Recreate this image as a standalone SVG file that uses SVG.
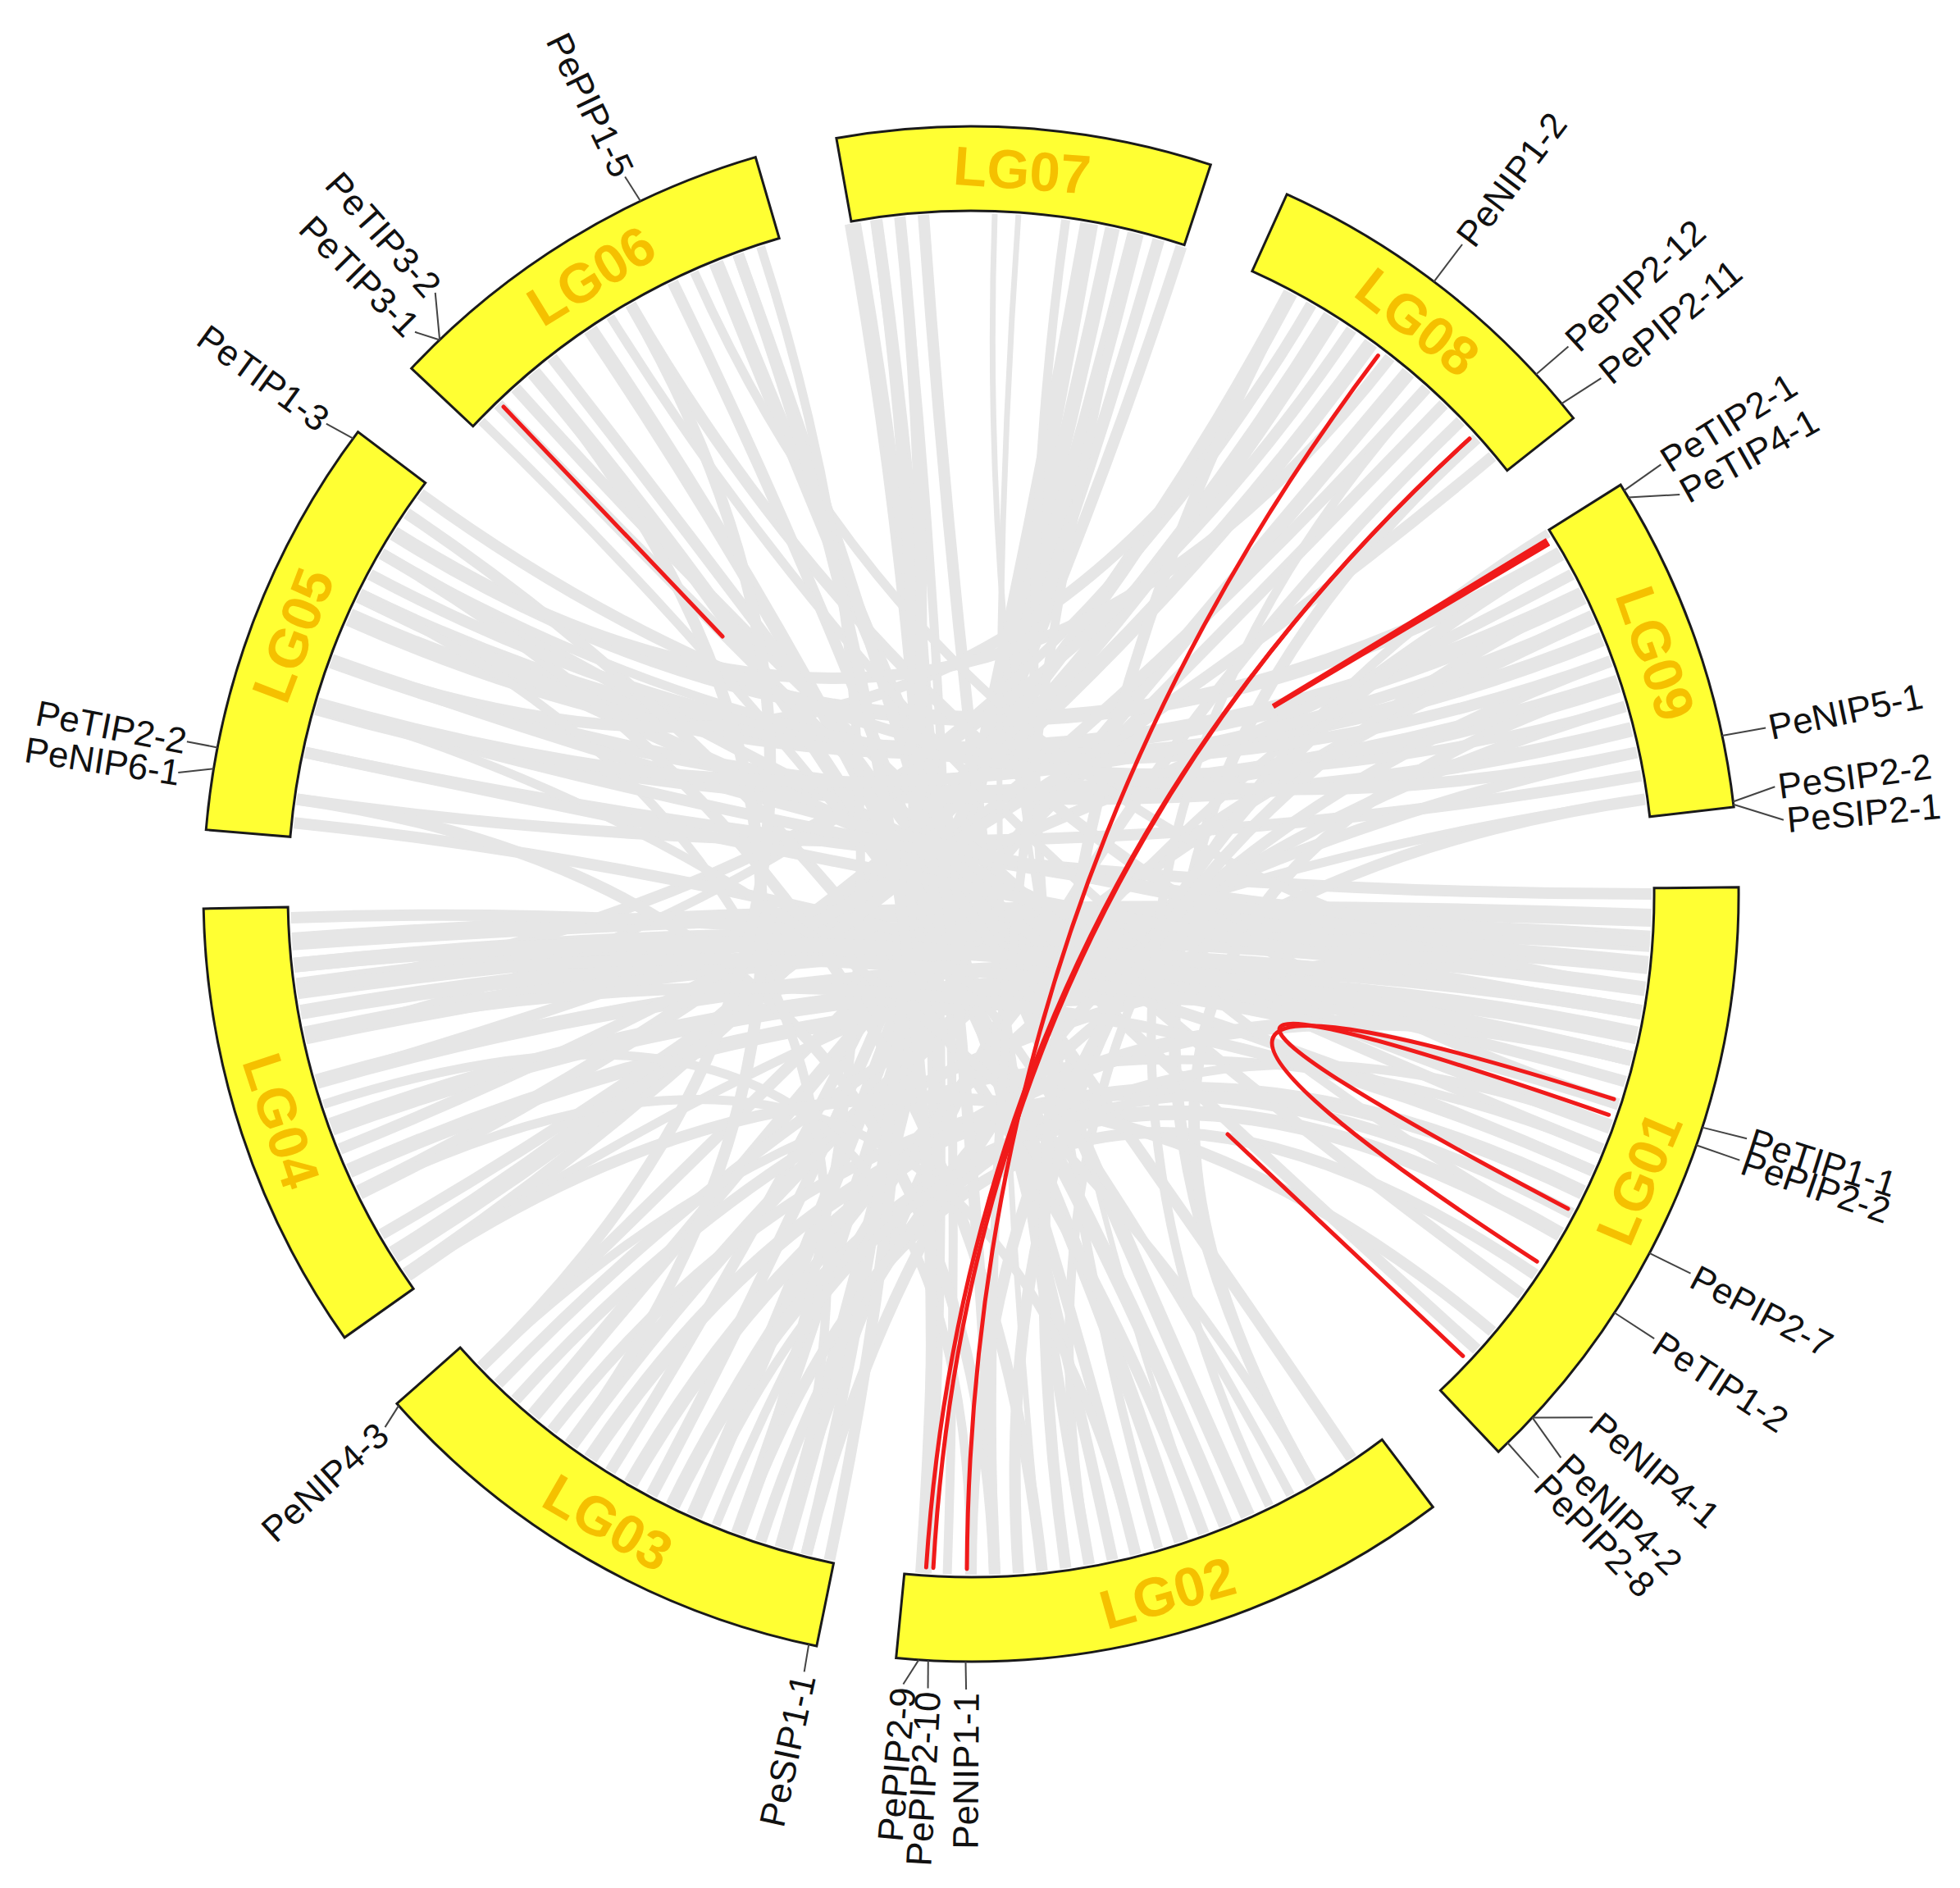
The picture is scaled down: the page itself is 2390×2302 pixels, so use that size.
<svg xmlns="http://www.w3.org/2000/svg" width="2390" height="2302" viewBox="0 0 2390 2302">
<style>
.lk{fill:none;stroke:#E6E6E6}
.rd{fill:none;stroke:#F01A1A;stroke-width:5;stroke-linecap:round}
.band{fill:#FFFF33;stroke:#1A1A1A;stroke-width:3;stroke-linejoin:miter}
.lg{font-family:"Liberation Sans",Arial,sans-serif;font-size:67px;font-weight:bold;fill:#F5C000;text-anchor:middle;dominant-baseline:central}
.gl{font-family:"Liberation Sans",Arial,sans-serif;font-size:44px;fill:#111111;dominant-baseline:central}
.gr{text-anchor:end}
.tk{stroke:#444444;stroke-width:2;fill:none}
</style>
<rect width="2390" height="2302" fill="#FFFFFF"/>
<g id="connectors">
<g transform="translate(1184,1090)">
<path class="lk" stroke-width="20" transform="rotate(267)" d="M-823.8,-101.2Q0,0 823.8,-101.2"/>
<path class="lk" stroke-width="15" transform="rotate(268)" d="M-825.4,-86.7Q0,0 825.4,-86.7"/>
<path class="lk" stroke-width="11" transform="rotate(268)" d="M-828,-57.9Q0,0 828,-57.9"/>
<path class="lk" stroke-width="14" transform="rotate(83)" d="M-828.8,-43.4Q0,0 828.8,-43.4"/>
<path class="lk" stroke-width="22" transform="rotate(283)" d="M-828.8,-43.4Q0,0 828.8,-43.4"/>
<path class="lk" stroke-width="18" transform="rotate(286)" d="M-828,-57.9Q0,0 828,-57.9"/>
<path class="lk" stroke-width="20" transform="rotate(289)" d="M-826.8,-72.3Q0,0 826.8,-72.3"/>
<path class="lk" stroke-width="15" transform="rotate(292)" d="M-825.4,-86.7Q0,0 825.4,-86.7"/>
<path class="lk" stroke-width="14" transform="rotate(295)" d="M-823.8,-101.2Q0,0 823.8,-101.2"/>
<path class="lk" stroke-width="11" transform="rotate(86)" d="M-811.8,-172.6Q0,0 811.8,-172.6"/>
<path class="lk" stroke-width="7" transform="rotate(81)" d="M-814.7,-158.4Q0,0 814.7,-158.4"/>
<path class="lk" stroke-width="18" transform="rotate(312)" d="M-805.3,-200.8Q0,0 805.3,-200.8"/>
<path class="lk" stroke-width="22" transform="rotate(315)" d="M-808.8,-186.7Q0,0 808.8,-186.7"/>
<path class="lk" stroke-width="18" transform="rotate(320)" d="M-805.3,-200.8Q0,0 805.3,-200.8"/>
<path class="lk" stroke-width="18" transform="rotate(130)" d="M-830,0Q0,0 830,0"/>
<path class="lk" stroke-width="14" transform="rotate(315)" d="M-829.9,-14.5Q0,0 829.9,-14.5"/>
<path class="lk" stroke-width="14" transform="rotate(121)" d="M-801.7,-214.8Q0,0 801.7,-214.8"/>
<path class="lk" stroke-width="14" transform="rotate(99)" d="M-645,-522.3Q0,0 645,-522.3"/>
<path class="lk" stroke-width="11" transform="rotate(324)" d="M-758.2,-337.6Q0,0 758.2,-337.6"/>
<path class="lk" stroke-width="14" transform="rotate(328)" d="M-758.2,-337.6Q0,0 758.2,-337.6"/>
<path class="lk" stroke-width="18" transform="rotate(1)" d="M-711.5,-427.5Q0,0 711.5,-427.5"/>
<path class="lk" stroke-width="22" transform="rotate(359)" d="M-752.2,-350.8Q0,0 752.2,-350.8"/>
<path class="lk" stroke-width="18" transform="rotate(2)" d="M-758.2,-337.6Q0,0 758.2,-337.6"/>
<path class="lk" stroke-width="22" transform="rotate(359)" d="M-793.7,-242.7Q0,0 793.7,-242.7"/>
<path class="lk" stroke-width="18" transform="rotate(3)" d="M-793.7,-242.7Q0,0 793.7,-242.7"/>
<path class="lk" stroke-width="14" transform="rotate(359)" d="M-819.8,-129.8Q0,0 819.8,-129.8"/>
<path class="lk" stroke-width="14" transform="rotate(338)" d="M-825.4,-86.7Q0,0 825.4,-86.7"/>
<path class="lk" stroke-width="18" transform="rotate(141)" d="M-801.7,-214.8Q0,0 801.7,-214.8"/>
<path class="lk" stroke-width="14" transform="rotate(140)" d="M-758.2,-337.6Q0,0 758.2,-337.6"/>
<path class="lk" stroke-width="14" transform="rotate(151)" d="M-793.7,-242.7Q0,0 793.7,-242.7"/>
<path class="lk" stroke-width="11" transform="rotate(159)" d="M-808.8,-186.7Q0,0 808.8,-186.7"/>
<path class="lk" stroke-width="11" transform="rotate(114)" d="M-688.1,-464.1Q0,0 688.1,-464.1"/>
<path class="lk" stroke-width="22" transform="rotate(179)" d="M-828.8,-43.4Q0,0 828.8,-43.4"/>
<path class="lk" stroke-width="26" transform="rotate(178)" d="M-825.4,-86.7Q0,0 825.4,-86.7"/>
<path class="lk" stroke-width="22" transform="rotate(177)" d="M-819.8,-129.8Q0,0 819.8,-129.8"/>
<path class="lk" stroke-width="18" transform="rotate(181)" d="M-823.8,-101.2Q0,0 823.8,-101.2"/>
<path class="lk" stroke-width="18" transform="rotate(177)" d="M-808.8,-186.7Q0,0 808.8,-186.7"/>
<path class="lk" stroke-width="22" transform="rotate(176)" d="M-797.9,-228.7Q0,0 797.9,-228.7"/>
<path class="lk" stroke-width="18" transform="rotate(175)" d="M-784.8,-270.2Q0,0 784.8,-270.2"/>
<path class="lk" stroke-width="14" transform="rotate(187)" d="M-819.8,-129.8Q0,0 819.8,-129.8"/>
<path class="lk" stroke-width="14" transform="rotate(6)" d="M-825.4,-86.7Q0,0 825.4,-86.7"/>
<path class="lk" stroke-width="18" transform="rotate(23)" d="M-828.8,-43.4Q0,0 828.8,-43.4"/>
<path class="lk" stroke-width="14" transform="rotate(26)" d="M-828,-57.9Q0,0 828,-57.9"/>
<path class="lk" stroke-width="14" transform="rotate(195)" d="M-819.8,-129.8Q0,0 819.8,-129.8"/>
<path class="lk" stroke-width="18" transform="rotate(165)" d="M-626.4,-544.6Q0,0 626.4,-544.6"/>
<path class="lk" stroke-width="14" transform="rotate(168)" d="M-635.8,-533.5Q0,0 635.8,-533.5"/>
<path class="lk" stroke-width="18" transform="rotate(163)" d="M-566.1,-607Q0,0 566.1,-607"/>
<path class="lk" stroke-width="14" transform="rotate(162)" d="M-511,-654Q0,0 511,-654"/>
<path class="lk" stroke-width="14" transform="rotate(42)" d="M-825.4,-86.7Q0,0 825.4,-86.7"/>
<path class="lk" stroke-width="14" transform="rotate(39)" d="M-774.9,-297.5Q0,0 774.9,-297.5"/>
<path class="lk" stroke-width="18" transform="rotate(239)" d="M-819.8,-129.8Q0,0 819.8,-129.8"/>
<path class="lk" stroke-width="18" transform="rotate(244)" d="M-821.9,-115.5Q0,0 821.9,-115.5"/>
<path class="lk" stroke-width="14" transform="rotate(250)" d="M-825.4,-86.7Q0,0 825.4,-86.7"/>
<path class="lk" stroke-width="18" transform="rotate(67)" d="M-829.9,-14.5Q0,0 829.9,-14.5"/>
<path class="lk" stroke-width="14" transform="rotate(254)" d="M-828,-57.9Q0,0 828,-57.9"/>
<path class="lk" stroke-width="14" transform="rotate(232)" d="M-789.4,-256.5Q0,0 789.4,-256.5"/>
<path class="lk" stroke-width="14" transform="rotate(237)" d="M-739.5,-376.8Q0,0 739.5,-376.8"/>
<path class="lk" stroke-width="11" transform="rotate(233)" d="M-819.8,-129.8Q0,0 819.8,-129.8"/>
<path class="lk" stroke-width="14" transform="rotate(111)" d="M-522.3,-645Q0,0 522.3,-645"/>
<path class="lk" stroke-width="14" transform="rotate(132)" d="M-732.8,-389.7Q0,0 732.8,-389.7"/>
<path class="lk" stroke-width="14" transform="rotate(140)" d="M-703.8,-439.8Q0,0 703.8,-439.8"/>
<path class="lk" stroke-width="11" transform="rotate(131)" d="M-784.8,-270.2Q0,0 784.8,-270.2"/>
<path class="lk" stroke-width="18" transform="rotate(157)" d="M-662.8,-499.5Q0,0 662.8,-499.5"/>
<path class="lk" stroke-width="14" transform="rotate(159)" d="M-739.5,-376.8Q0,0 739.5,-376.8"/>
<path class="lk" stroke-width="11" transform="rotate(169)" d="M-696.1,-452Q0,0 696.1,-452"/>
<path class="lk" stroke-width="14" transform="rotate(321)" d="M-819.8,-129.8Q0,0 819.8,-129.8"/>
<path class="lk" stroke-width="14" transform="rotate(329)" d="M-819.8,-129.8Q0,0 819.8,-129.8"/>
<path class="lk" stroke-width="14" transform="rotate(340)" d="M-635.8,-533.5Q0,0 635.8,-533.5"/>
<path class="lk" stroke-width="14" transform="rotate(350)" d="M-616.8,-555.4Q0,0 616.8,-555.4"/>
<path class="lk" stroke-width="14" transform="rotate(44)" d="M-829.5,-29Q0,0 829.5,-29"/>
<path class="lk" stroke-width="14" transform="rotate(234)" d="M-829.5,-29Q0,0 829.5,-29"/>
<path class="lk" stroke-width="11" transform="rotate(44)" d="M-805.3,-200.8Q0,0 805.3,-200.8"/>
<path class="lk" stroke-width="11" transform="rotate(37)" d="M-725.9,-402.4Q0,0 725.9,-402.4"/>
<path class="lk" stroke-width="11" transform="rotate(271)" d="M-784.8,-270.2Q0,0 784.8,-270.2"/>
<path class="lk" stroke-width="14" transform="rotate(228)" d="M-635.8,-533.5Q0,0 635.8,-533.5"/>
<path class="lk" stroke-width="11" transform="rotate(218)" d="M-769.6,-310.9Q0,0 769.6,-310.9"/>
<path class="lk" stroke-width="11" transform="rotate(205)" d="M-522.3,-645Q0,0 522.3,-645"/>
<path class="lk" stroke-width="11" transform="rotate(216)" d="M-487.9,-671.5Q0,0 487.9,-671.5"/>
<path class="lk" stroke-width="11" transform="rotate(246)" d="M-635.8,-533.5Q0,0 635.8,-533.5"/>
<path class="lk" stroke-width="7" transform="rotate(89)" d="M-826.8,-72.3Q0,0 826.8,-72.3"/>
<path class="lk" stroke-width="14" transform="rotate(264)" d="M-828,-57.9Q0,0 828,-57.9"/>
<path class="lk" stroke-width="14" transform="rotate(272)" d="M-817.4,-144.1Q0,0 817.4,-144.1"/>
<path class="lk" stroke-width="14" transform="rotate(274)" d="M-817.4,-144.1Q0,0 817.4,-144.1"/>
<path class="lk" stroke-width="14" transform="rotate(10)" d="M-825.4,-86.7Q0,0 825.4,-86.7"/>
<path class="lk" stroke-width="14" transform="rotate(13)" d="M-823.8,-101.2Q0,0 823.8,-101.2"/>
<path class="lk" stroke-width="18" transform="rotate(180)" d="M-817.4,-144.1Q0,0 817.4,-144.1"/>
<path class="lk" stroke-width="18" transform="rotate(184)" d="M-817.4,-144.1Q0,0 817.4,-144.1"/>
<path class="lk" stroke-width="14" transform="rotate(183)" d="M-662.8,-499.5Q0,0 662.8,-499.5"/>
<path class="lk" stroke-width="14" transform="rotate(118)" d="M-703.8,-439.8Q0,0 703.8,-439.8"/>
<path class="lk" stroke-width="14" transform="rotate(122)" d="M-703.8,-439.8Q0,0 703.8,-439.8"/>
<path class="lk" stroke-width="11" transform="rotate(98)" d="M-688.1,-464.1Q0,0 688.1,-464.1"/>
<path class="lk" stroke-width="14" transform="rotate(100)" d="M-789.4,-256.5Q0,0 789.4,-256.5"/>
<path class="lk" stroke-width="11" transform="rotate(96)" d="M-821.9,-115.5Q0,0 821.9,-115.5"/>
<path class="lk" stroke-width="14" transform="rotate(262)" d="M-811.8,-172.6Q0,0 811.8,-172.6"/>
<path class="lk" stroke-width="14" transform="rotate(11)" d="M-829.9,-14.5Q0,0 829.9,-14.5"/>
<path class="lk" stroke-width="14" transform="rotate(4)" d="M-758.2,-337.6Q0,0 758.2,-337.6"/>
<path class="lk" stroke-width="14" transform="rotate(12)" d="M-758.2,-337.6Q0,0 758.2,-337.6"/>
<path class="lk" stroke-width="14" transform="rotate(268)" d="M-654,-511Q0,0 654,-511"/>
<path class="lk" stroke-width="14" transform="rotate(278)" d="M-654,-511Q0,0 654,-511"/>
<path class="lk" stroke-width="11" transform="rotate(155)" d="M-586.9,-586.9Q0,0 586.9,-586.9"/>
<path class="lk" stroke-width="11" transform="rotate(160)" d="M-576.6,-597Q0,0 576.6,-597"/>
<path class="lk" stroke-width="14" transform="rotate(356)" d="M-780,-283.9Q0,0 780,-283.9"/>
<path class="lk" stroke-width="11" transform="rotate(7)" d="M-764,-324.3Q0,0 764,-324.3"/>
<path class="lk" stroke-width="14" transform="rotate(185)" d="M-808.8,-186.7Q0,0 808.8,-186.7"/>
<path class="lk" stroke-width="14" transform="rotate(186)" d="M-789.4,-256.5Q0,0 789.4,-256.5"/>
</g>
<path class="rd" d="M1680.4,433.6Q1184,1090 1179,1913"/>
<path class="rd" d="M1791.8,535Q1184,1090 1138.1,1911.7"/>
<path class="rd" d="M1791.8,535Q1184,1090 1129.4,1911"/>
<path class="rd" d="M1968,1340.2Q1184,1090 1874.2,1538.2"/>
<path class="rd" d="M1961.7,1359.3Q1184,1090 1912,1473.8"/>
<path class="rd" d="M614,496L881,776"/>
<path class="rd" d="M1783.9,1653.4L1497,1383"/>
<polygon points="1889.3,664.9 1884.7,657.1 1551.7,858.9 1554.3,863.2" fill="#F01A1A" stroke="#F01A1A" stroke-width="1.5" stroke-linejoin="round"/>
</g>
<g id="LG07" transform="translate(1184,1090) rotate(4.05)"><path class="band" d="M-228.8,-907.6A936,936 0 0 1 228.8,-907.6L203.6,-807.7A833,833 0 0 0 -203.6,-807.7Z"/><text class="lg" x="0" y="-885">LG07</text></g>
<g id="LG08" transform="translate(1184,1090) rotate(38)"><path class="band" d="M-221.7,-909.4A936,936 0 0 1 221.7,-909.4L197.3,-809.4A833,833 0 0 0 -197.3,-809.4Z"/><text class="lg" x="0" y="-885">LG08</text></g>
<g id="LG09" transform="translate(1184,1090) rotate(70.65)"><path class="band" d="M-208.2,-912.7A936,936 0 0 1 208.2,-912.7L185.3,-812.2A833,833 0 0 0 -185.3,-812.2Z"/><text class="lg" x="0" y="-885">LG09</text></g>
<g id="LG01" transform="translate(1184,1090) rotate(113.05)"><path class="band" d="M-374,-858.1A936,936 0 0 1 374,-858.1L332.8,-763.7A833,833 0 0 0 -332.8,-763.7Z"/><text class="lg" x="0" y="-885" transform="rotate(180 0 -885)">LG01</text></g>
<g id="LG02" transform="translate(1184,1090) rotate(164.3)"><path class="band" d="M-340,-872.1A936,936 0 0 1 340,-872.1L302.6,-776.1A833,833 0 0 0 -302.6,-776.1Z"/><text class="lg" x="0" y="-885" transform="rotate(180 0 -885)">LG02</text></g>
<g id="LG03" transform="translate(1184,1090) rotate(210)"><path class="band" d="M-295.5,-888.2A936,936 0 0 1 295.5,-888.2L262.9,-790.4A833,833 0 0 0 -262.9,-790.4Z"/><text class="lg" x="0" y="-885" transform="rotate(180 0 -885)">LG03</text></g>
<g id="LG04" transform="translate(1184,1090) rotate(251.8)"><path class="band" d="M-275.2,-894.6A936,936 0 0 1 275.2,-894.6L244.9,-796.2A833,833 0 0 0 -244.9,-796.2Z"/><text class="lg" x="0" y="-885" transform="rotate(180 0 -885)">LG04</text></g>
<g id="LG05" transform="translate(1184,1090) rotate(290.9)"><path class="band" d="M-259.6,-899.3A936,936 0 0 1 259.6,-899.3L231,-800.3A833,833 0 0 0 -231,-800.3Z"/><text class="lg" x="0" y="-885">LG05</text></g>
<g id="LG06" transform="translate(1184,1090) rotate(328.45)"><path class="band" d="M-246.2,-903.1A936,936 0 0 1 246.2,-903.1L219.1,-803.7A833,833 0 0 0 -219.1,-803.7Z"/><text class="lg" x="0" y="-885">LG06</text></g>
<g id="PeNIP1-2" transform="translate(1184,1090) rotate(37.1)"><path class="tk" d="M0,-936L0,-993"/><text class="gl" transform="rotate(-90)" x="997" y="0">PeNIP1-2</text></g>
<g id="PePIP2-12" transform="translate(1184,1090) rotate(47.5)"><path class="tk" d="M-1.6,-936L0,-988"/><text class="gl" transform="rotate(-90)" x="992" y="0">PePIP2-12</text></g>
<g id="PePIP2-11" transform="translate(1184,1090) rotate(50.7)"><path class="tk" d="M-6.5,-936L0,-993"/><text class="gl" transform="rotate(-90)" x="997" y="0">PePIP2-11</text></g>
<g id="PeTIP2-1" transform="translate(1184,1090) rotate(58.1)"><path class="tk" d="M3.3,-936L0,-991"/><text class="gl" transform="rotate(-90)" x="995" y="0">PeTIP2-1</text></g>
<g id="PeTIP4-1" transform="translate(1184,1090) rotate(60.6)"><path class="tk" d="M-27.8,-935.6L0,-992"/><text class="gl" transform="rotate(-90)" x="996" y="0">PeTIP4-1</text></g>
<g id="PeNIP5-1" transform="translate(1184,1090) rotate(78.2)"><path class="tk" d="M-1.6,-936L0,-990"/><text class="gl" transform="rotate(-90)" x="994" y="0">PeNIP5-1</text></g>
<g id="PeSIP2-2" transform="translate(1184,1090) rotate(82.4)"><path class="tk" d="M11.4,-935.9L0,-989"/><text class="gl" transform="rotate(-90)" x="993" y="0">PeSIP2-2</text></g>
<g id="PeSIP2-1" transform="translate(1184,1090) rotate(84.8)"><path class="tk" d="M-24.5,-935.7L0,-995"/><text class="gl" transform="rotate(-90)" x="999" y="0">PeSIP2-1</text></g>
<g id="PeTIP1-1" transform="translate(1184,1090) rotate(107.5)"><path class="tk" d="M3.3,-936L0,-992"/><text class="gl" transform="rotate(-90)" x="996" y="0">PeTIP1-1</text></g>
<g id="PePIP2-2" transform="translate(1184,1090) rotate(109.1)"><path class="tk" d="M0,-936L0,-992"/><text class="gl" transform="rotate(-90)" x="996" y="0">PePIP2-2</text></g>
<g id="PePIP2-7" transform="translate(1184,1090) rotate(117.8)"><path class="tk" d="M1.6,-936L0,-992"/><text class="gl" transform="rotate(-90)" x="996" y="0">PePIP2-7</text></g>
<g id="PeTIP1-2" transform="translate(1184,1090) rotate(123.05)"><path class="tk" d="M0,-936L0,-994"/><text class="gl" transform="rotate(-90)" x="998" y="0">PeTIP1-2</text></g>
<g id="PeNIP4-1" transform="translate(1184,1090) rotate(130.1)"><path class="tk" d="M47.4,-934.8L0,-991"/><text class="gl" transform="rotate(-90)" x="995" y="0">PeNIP4-1</text></g>
<g id="PeNIP4-2" transform="translate(1184,1090) rotate(133.7)"><path class="tk" d="M-11.4,-935.9L0,-995"/><text class="gl" transform="rotate(-90)" x="999" y="0">PeNIP4-2</text></g>
<g id="PePIP2-8" transform="translate(1184,1090) rotate(135.8)"><path class="tk" d="M-2.5,-936L0,-993"/><text class="gl" transform="rotate(-90)" x="997" y="0">PePIP2-8</text></g>
<g id="PeNIP1-1" transform="translate(1184,1090) rotate(180.35)"><path class="tk" d="M0.8,-936L0,-970"/><text class="gl gr" transform="rotate(90)" x="-974" y="0">PeNIP1-1</text></g>
<g id="PePIP2-10" transform="translate(1184,1090) rotate(183.1)"><path class="tk" d="M1.6,-936L0,-970"/><text class="gl gr" transform="rotate(90)" x="-974" y="0">PePIP2-10</text></g>
<g id="PePIP2-9" transform="translate(1184,1090) rotate(184.9)"><path class="tk" d="M-16.3,-935.9L0,-967"/><text class="gl gr" transform="rotate(90)" x="-971" y="0">PePIP2-9</text></g>
<g id="PeSIP1-1" transform="translate(1184,1090) rotate(192.1)"><path class="tk" d="M1.6,-936L0,-970"/><text class="gl gr" transform="rotate(90)" x="-974" y="0">PeSIP1-1</text></g>
<g id="PeNIP4-3" transform="translate(1184,1090) rotate(227.7)"><path class="tk" d="M8.2,-936L0,-966"/><text class="gl gr" transform="rotate(90)" x="-970" y="0">PeNIP4-3</text></g>
<g id="PeNIP6-1" transform="translate(1184,1090) rotate(278.7)"><path class="tk" d="M11.4,-936L0,-978"/><text class="gl gr" transform="rotate(90)" x="-976" y="0">PeNIP6-1</text></g>
<g id="PeTIP2-2" transform="translate(1184,1090) rotate(281)"><path class="tk" d="M0,-936L0,-974"/><text class="gl gr" transform="rotate(90)" x="-975" y="0">PeTIP2-2</text></g>
<g id="PeTIP1-3" transform="translate(1184,1090) rotate(306.1)"><path class="tk" d="M4.9,-936L0,-973"/><text class="gl gr" transform="rotate(90)" x="-975" y="0">PeTIP1-3</text></g>
<g id="PeTIP3-1" transform="translate(1184,1090) rotate(315.3)"><path class="tk" d="M14.7,-935.9L0,-964"/><text class="gl gr" transform="rotate(90)" x="-967" y="0">PeTIP3-1</text></g>
<g id="PeTIP3-2" transform="translate(1184,1090) rotate(318.3)"><path class="tk" d="M-34.3,-935.4L0,-982"/><text class="gl gr" transform="rotate(90)" x="-984" y="0">PeTIP3-2</text></g>
<g id="PePIP1-5" transform="translate(1184,1090) rotate(334.25)"><path class="tk" d="M4.1,-936L0,-971"/><text class="gl gr" transform="rotate(90)" x="-974" y="0">PePIP1-5</text></g>
</svg>
